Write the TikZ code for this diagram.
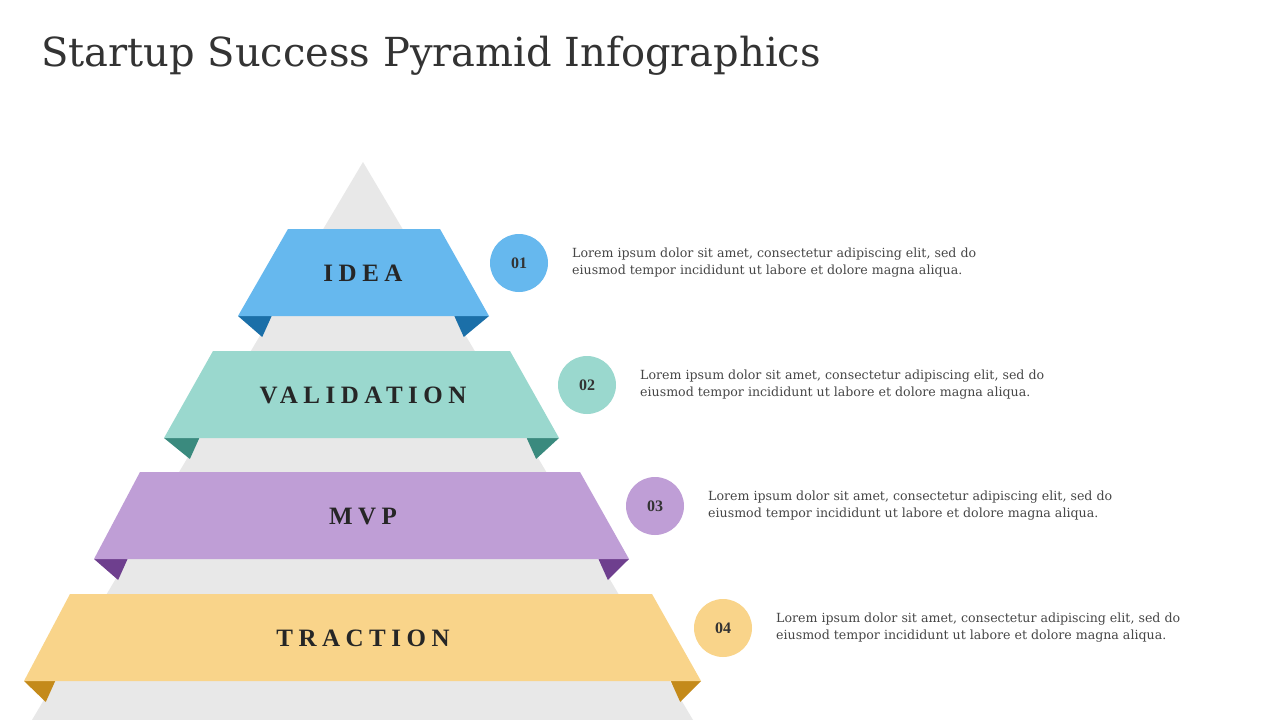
\documentclass[tikz,border=0pt]{standalone}
\usepackage{fontspec}
\setmainfont{Liberation Serif}
\newfontfamily\wide{DejaVu Serif}
\definecolor{gr}{HTML}{E8E8E8}
\definecolor{b1}{HTML}{66B8EE}\definecolor{d1}{HTML}{1B6FA8}
\definecolor{b2}{HTML}{9AD8CE}\definecolor{d2}{HTML}{3A8A7E}
\definecolor{b3}{HTML}{BF9ED6}\definecolor{d3}{HTML}{6E3F8E}
\definecolor{b4}{HTML}{F9D48A}\definecolor{d4}{HTML}{C48A1A}
\definecolor{tx}{HTML}{333333}
\begin{document}
\begin{tikzpicture}[x=1pt,y=-1pt,
 lbl/.style={font=\fontsize{25}{25}\selectfont\bfseries,text=black!85},
 num/.style={circle,minimum size=58pt,inner sep=0pt,font=\fontsize{16}{16}\selectfont\bfseries,text=tx},
 desc/.style={anchor=north west,align=left,inner sep=0pt,font=\wide\fontsize{12.6}{17}\selectfont,text=tx!90}]
\useasboundingbox[fill=white] (0,0) rectangle (1280,720);
\node[anchor=west,inner sep=0pt,font=\wide\fontsize{40}{40}\selectfont,text=tx] (title) at (41,56) {Startup Success Pyramid Infographics};
\fill[gr] (363,162) -- (693,720) -- (32,720) -- cycle;
\foreach \yt/\lt/\rt/\lb/\rb/\c/\d/\t/\n in {
 229/288/440/238/489/b1/d1/IDEA/1,
 351/213/510/164/559/b2/d2/VALIDATION/2,
 472/140/580/94/629/b3/d3/MVP/3,
 594/70/652/24/701/b4/d4/TRACTION/4}{
 \pgfmathsetmacro\yb{\yt+87}
 \pgfmathsetmacro\pl{363-0.593*(\yb-162)}
 \pgfmathsetmacro\pr{726-\pl}
 \pgfmathsetmacro\pll{363-0.593*(\yb+21-162)+3}
 \pgfmathsetmacro\prr{726-\pll}
 \fill[\d] (\lb,\yb) -- (\pl,\yb) -- (\pll,\yb+21) -- cycle;
 \fill[\d] (\rb,\yb) -- (\pr,\yb) -- (\prr,\yb+21) -- cycle;
 \fill[\c] (\lt,\yt) -- (\rt,\yt) -- (\rb,\yb) -- (\lb,\yb) -- cycle;
 \node[lbl] (L\n) at (363,\yt+44) {\addfontfeature{LetterSpace=22}\t};
 \pgfmathsetmacro\cx{519+68*(\n-1)}
 \node[num,fill=\c] (C\n) at (\cx,\yt+34) {0\n};
 \node[desc] (D\n) at (\cx+53,\yt+19) {Lorem ipsum dolor sit amet, consectetur adipiscing elit, sed do\\eiusmod tempor incididunt ut labore et dolore magna aliqua.};
}
\end{tikzpicture}
\end{document}
